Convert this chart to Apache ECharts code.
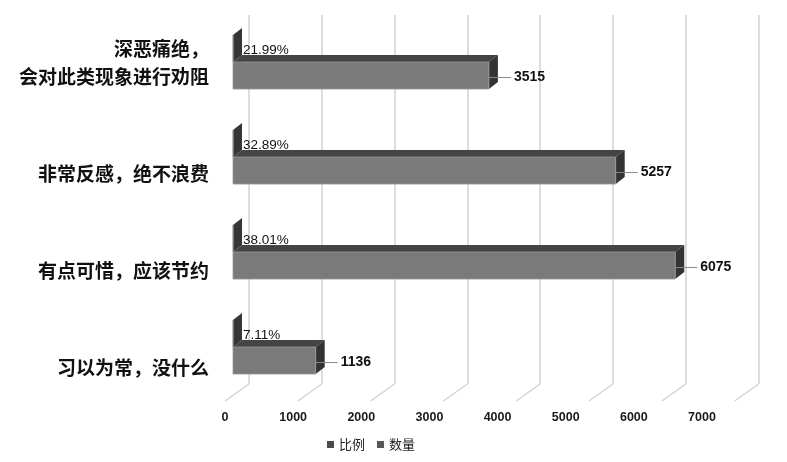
<!DOCTYPE html>
<html>
<head>
<meta charset="utf-8">
<script src="https://cdn.jsdelivr.net/npm/echarts@6/dist/echarts.min.js"></script>
<style>
html,body{margin:0;padding:0;background:#fff;}
#chart{width:787px;height:462px;}
</style>
</head>
<body>
<div id="chart"></div>
<script>
// ---- data ----
var categories = ['深恶痛绝，\n会对此类现象进行劝阻', '非常反感，绝不浪费', '有点可惜，应该节约', '习以为常，没什么'];
var ratioValues = [0.2199, 0.3289, 0.3801, 0.0711];
var countValues = [3515, 5257, 6075, 1136];
var xTicks = [0, 1000, 2000, 3000, 4000, 5000, 6000, 7000];
var seriesNames = ['比例', '数量'];

var DX = 9, DY = -7;            // bar depth
var FLOOR_DX = -24, FLOOR_DY = 17; // floor depth
var numFont = "'Liberation Sans', 'Noto Sans CJK SC', sans-serif";
var cjkFont = "'Noto Sans CJK SC', sans-serif";

function boxItem(which) {
  return function (params, api) {
    var idx = api.value(1);
    var v = api.value(0);
    var c = api.coord([v, idx]);
    var c0 = api.coord([0, idx]);
    var band = api.size([0, 1])[1];
    var h = band * 0.285;
    var x0 = c0[0], x1 = c[0];
    var yTop = which === 0 ? c[1] - h : c[1];
    var yBot = yTop + h;
    var front = which === 0 ? '#555555' : '#7a7a7a';
    var top = which === 0 ? '#3c3c3c' : '#444444';
    var side = which === 0 ? '#363636' : '#333333';
    var zb = which === 0 ? 1 : 5;
    var children = [
      {type: 'polygon', z2: zb, shape: {points: [[x0, yTop], [x0 + DX, yTop + DY], [x1 + DX, yTop + DY], [x1, yTop]]}, style: {fill: top}},
      {type: 'polygon', z2: zb, shape: {points: [[x1, yTop], [x1 + DX, yTop + DY], [x1 + DX, yBot + DY], [x1, yBot]]}, style: {fill: side}},
      {type: 'rect', z2: zb + 1, shape: {x: x0, y: yTop, width: Math.max(x1 - x0, 0), height: h}, style: {fill: front, stroke: '#9a9a9a', lineWidth: 0.8}}
    ];
    var yc = (yTop + yBot) / 2 + 2;
    if (which === 0) {
      children.push({type: 'text', z2: 100, style: {
        x: x1 + DX + 1, y: yc, text: (v * 100).toFixed(2) + '%',
        fill: '#111', font: '13.5px ' + numFont, textVerticalAlign: 'middle', textAlign: 'left'}});
    } else {
      children.push({type: 'line', z2: 100, shape: {x1: x1, y1: yc, x2: x1 + 22, y2: yc}, style: {stroke: '#8a8a8a', lineWidth: 1}});
      children.push({type: 'text', z2: 100, style: {
        x: x1 + 25, y: yc, text: String(v),
        fill: '#111', font: 'bold 14px ' + numFont, textVerticalAlign: 'middle', textAlign: 'left'}});
    }
    return {type: 'group', children: children};
  };
}

var chart = echarts.init(document.getElementById('chart'), null, {renderer: 'canvas'});
var option = {
  backgroundColor: '#ffffff',
  animation: false,
  legend: {
    data: seriesNames,
    left: 327, top: 438, padding: 0,
    itemWidth: 7, itemHeight: 7, itemGap: 12,
    icon: 'rect',
    textStyle: {fontSize: 13, color: '#222', fontFamily: cjkFont}
  },
  grid: [
    {left: 233, width: 509.6, top: 14.5, height: 380},     // bars
    {left: 249, width: 509.6, top: 15, bottom: 78},         // back wall
    {left: 225, width: 477, top: 380, bottom: 57},          // front x labels
    {left: 233, width: 509.6, top: 42.5, height: 388}       // category labels
  ],
  xAxis: [
    {gridIndex: 0, type: 'value', min: 0, max: 7000, interval: 1000, show: false},
    {gridIndex: 1, type: 'value', min: 0, max: 7000, interval: 1000,
      axisLine: {show: false}, axisTick: {show: false}, axisLabel: {show: false},
      splitLine: {show: true, lineStyle: {color: '#d2d2d2', width: 1.5}}},
    {gridIndex: 2, type: 'value', min: 0, max: 7000, interval: 1000,
      axisLine: {show: false}, axisTick: {show: false}, splitLine: {show: false},
      axisLabel: {margin: 6, fontSize: 12.5, fontWeight: 'bold', color: '#1a1a1a', fontFamily: numFont,
        formatter: function (v) { return String(v); }}},
    {gridIndex: 3, type: 'value', show: false}
  ],
  yAxis: [
    {gridIndex: 0, type: 'category', data: categories, inverse: true, show: false},
    {gridIndex: 1, type: 'value', min: 0, max: 1, show: false},
    {gridIndex: 2, type: 'value', show: false},
    {gridIndex: 3, type: 'category', data: categories, inverse: true,
      axisLine: {show: false}, axisTick: {show: false}, splitLine: {show: false},
      axisLabel: {margin: 24, fontSize: 19, fontWeight: 'bold', lineHeight: 28, verticalAlign: 'bottom', align: 'right', color: '#111', fontFamily: cjkFont}}
  ],
  series: [
    {
      type: 'custom', name: '__floor', xAxisIndex: 1, yAxisIndex: 1, silent: true, z: 1,
      data: xTicks.map(function (t) { return [t, 0]; }),
      renderItem: function (params, api) {
        var p = api.coord([api.value(0), 0]);
        return {type: 'line', shape: {x1: p[0], y1: p[1], x2: p[0] + FLOOR_DX, y2: p[1] + FLOOR_DY},
          style: {stroke: '#d0d0d0', lineWidth: 1.2}};
      }
    },
    {
      type: 'custom', name: seriesNames[0], xAxisIndex: 0, yAxisIndex: 0, z: 3,
      itemStyle: {color: '#4a4a4a'},
      data: ratioValues.map(function (v, i) { return [v, i]; }),
      encode: {x: 0, y: 1},
      renderItem: boxItem(0)
    },
    {
      type: 'custom', name: seriesNames[1], xAxisIndex: 0, yAxisIndex: 0, z: 3,
      itemStyle: {color: '#575757'},
      data: countValues.map(function (v, i) { return [v, i]; }),
      encode: {x: 0, y: 1},
      renderItem: boxItem(1)
    }
  ]
};
chart.setOption(option);
</script>
</body>
</html>
